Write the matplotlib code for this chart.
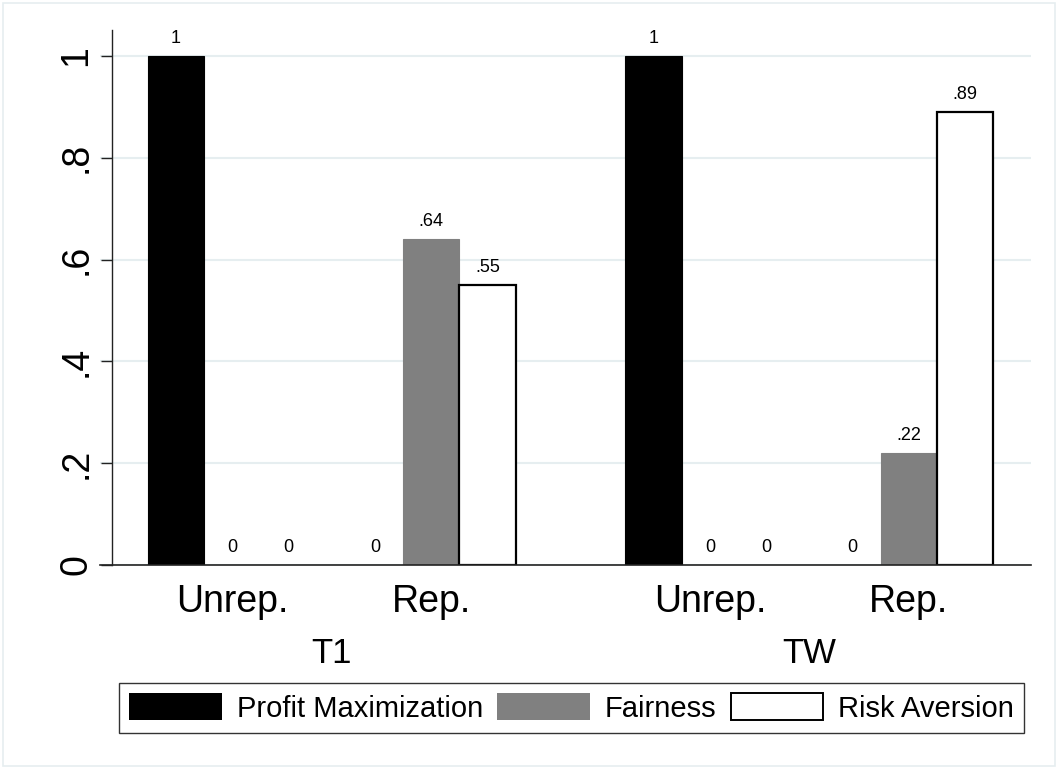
import matplotlib
matplotlib.use("Agg")
import matplotlib.pyplot as plt
from matplotlib.patches import Patch, Rectangle
from matplotlib.transforms import blended_transform_factory
import numpy as np

plt.rcParams['font.family'] = ['Liberation Sans', 'DejaVu Sans']

# ---- data ----
treatments = ['T1', 'TW']
conditions = ['Unrep.', 'Rep.']
series_names = ['Profit Maximization', 'Fairness', 'Risk Aversion']
# order: T1 Unrep., T1 Rep., TW Unrep., TW Rep.
profit_max = [1.0, 0.0, 1.0, 0.0]
fairness = [0.0, 0.64, 0.0, 0.22]
risk_aversion = [0.0, 0.55, 0.0, 0.89]
yticks = [0, 0.2, 0.4, 0.6, 0.8, 1.0]
ytick_labels = ['0', '.2', '.4', '.6', '.8', '1']

series_values = [profit_max, fairness, risk_aversion]
face_colors = ['black', '#808080', 'white']
edge_colors = ['black', '#808080', 'black']

W, H = 1058, 769
fig = plt.figure(figsize=(W / 100, H / 100), dpi=100)
fig.patch.set_facecolor('white')

# outer light frame
fig.patches.append(Rectangle((3 / W, 3 / H), (1055 - 3) / W, (766 - 3) / H,
                             transform=fig.transFigure, fill=False,
                             edgecolor='#E6EEF0', lw=1.2, zorder=0))

ax = fig.add_axes([100 / W, (H - 565) / H, 931 / W, 535 / H])

g1 = 0.533   # gap between condition groups
g2 = 1.954   # extra gap between treatments
nser = len(series_names)
cond_span = nser + g1
treat_span = 2 * nser + g1 + g2

for ti, t in enumerate(treatments):
    for ci, c in enumerate(conditions):
        idx = ti * len(conditions) + ci
        base = ti * treat_span + ci * cond_span
        for si in range(nser):
            v = series_values[si][idx]
            left = base + si
            lw = (1.6 if si == 2 else 0.8) if v > 0 else 0
            ax.bar(left, v, width=1.0, align='edge', color=face_colors[si],
                   edgecolor=edge_colors[si], lw=lw, zorder=3)
            if v == 1:
                lab = '1'
            elif v == 0:
                lab = '0'
            else:
                lab = f'{v:.2f}'.lstrip('0')
            ax.annotate(lab, (left + 0.5, v), xytext=(0, 9.4),
                        textcoords='offset points', ha='center',
                        va='baseline', fontsize=13, zorder=4)

total = treat_span + 2 * nser + g1
ax.set_xlim(-0.853, total + 0.675)
ax.set_ylim(0, 1.051)

# axes styling
for s in ['top', 'right']:
    ax.spines[s].set_visible(False)
ax.spines['left'].set_position(('axes', 11.6 / 931))
ax.spines['left'].set_color('#222222')
ax.spines['left'].set_linewidth(1.0)
ax.spines['bottom'].set_color('#222222')
ax.spines['bottom'].set_linewidth(1.2)
ax.spines['bottom'].set_zorder(5)

ax.set_yticks(yticks)
ax.set_yticklabels(ytick_labels, rotation=90, va='center', fontsize=27)
ax.tick_params(axis='y', length=7.9, width=1.0, color='#222222', pad=4.5)
ax.yaxis.grid(True, color='#E6EEF0', lw=1.5, zorder=0)
ax.set_axisbelow(True)

ax.set_xticks([])
trans = blended_transform_factory(ax.transData, fig.transFigure)
for ti, t in enumerate(treatments):
    for ci, c in enumerate(conditions):
        center = ti * treat_span + ci * cond_span + nser / 2
        ax.text(center, (H - 612) / H, c, transform=trans, ha='center',
                va='baseline', fontsize=27, clip_on=False)
    tcenter = ti * treat_span + (2 * nser + g1) / 2
    ax.text(tcenter, (H - 663) / H, t, transform=trans, ha='center',
            va='baseline', fontsize=25, clip_on=False)

handles = [Patch(facecolor=face_colors[i], edgecolor='black',
                 lw=1.4 if i == 2 else 0, label=series_names[i])
           for i in range(nser)]
leg = fig.legend(handles=handles, loc='center',
                 bbox_to_anchor=(571.5 / W, (H - 708) / H), ncol=3,
                 fontsize=21, handlelength=3.17, handleheight=1.0,
                 handletextpad=0.5, columnspacing=0.5, borderpad=0.35,
                 borderaxespad=0, fancybox=False, frameon=True)
leg.get_frame().set_edgecolor('black')
leg.get_frame().set_linewidth(1.0)

fig.savefig('out.png', dpi=100)
